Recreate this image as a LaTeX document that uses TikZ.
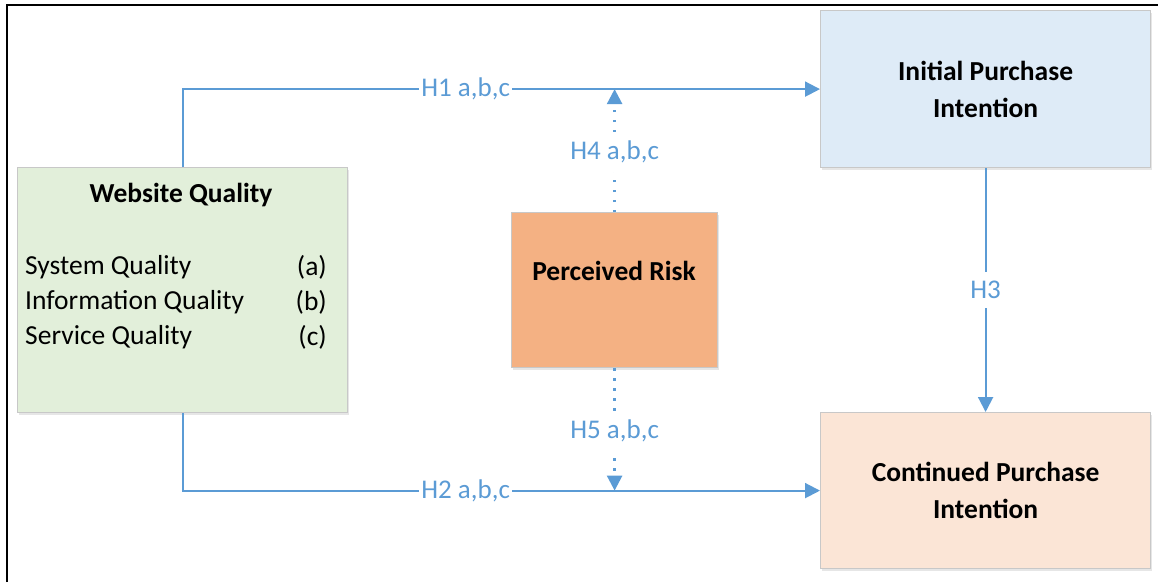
\documentclass[tikz,border=0pt]{standalone}
\usepackage{fontspec}
\setmainfont{Carlito}
\usetikzlibrary{arrows.meta,shadows}

\definecolor{linkblue}{HTML}{5B9BD5}
\definecolor{wqfill}{HTML}{E2EFDA}
\definecolor{ipfill}{HTML}{DEEBF7}
\definecolor{cpfill}{HTML}{FBE5D6}
\definecolor{prfill}{HTML}{F4B183}
\definecolor{boxedge}{HTML}{C8C8C8}

\begin{document}
\begin{tikzpicture}[x=1pt,y=-1pt,
  box/.style={draw=boxedge, line width=1.2pt, inner sep=0pt, anchor=north west,
    drop shadow={opacity=0.2, shadow xshift=1pt, shadow yshift=-2.5pt}},
  title/.style={font=\fontsize{27.5}{37}\selectfont\bfseries, align=center, inner sep=0pt},
  item/.style={font=\fontsize{27.5}{30}\selectfont, inner sep=0pt},
  conn/.style={draw=linkblue, line width=2pt, -{Triangle[length=15pt,width=15pt]}},
  dotconn/.style={conn, line width=2.6pt, dash pattern=on 2.4pt off 7.6pt},
  lbl/.style={fill=white, text=linkblue, font=\fontsize{27}{30}\selectfont, inner xsep=2pt, inner ysep=2pt},
  vlbl/.style={lbl, inner ysep=9pt}]

\useasboundingbox (0,0) rectangle (1158,582);

% frame
\draw[line width=2.2pt] (7,582) -- (7,5) -- (1158,5);

% boxes
\node[box, fill=wqfill, minimum width=330pt, minimum height=245pt] (wq) at (17,167) {};
\node[box, fill=ipfill, minimum width=330pt, minimum height=157pt] (ip) at (820,10) {};
\node[box, fill=cpfill, minimum width=330pt, minimum height=156pt] (cp) at (820,412) {};
\node[box, fill=prfill, minimum width=206pt, minimum height=155pt] (pr) at (511,212) {};

% box texts
\node[title] (wqtitle) at (181,195) {Website Quality};
\node[item, anchor=west] (sq) at (25,267) {System Quality};
\node[item, anchor=west] (iq) at (25,302) {Information Quality};
\node[item, anchor=west] (svq) at (25,337) {Service Quality};
\node[item, anchor=east] (sqa) at (327,267) {(a)};
\node[item, anchor=east] (iqb) at (327,302) {(b)};
\node[item, anchor=east] (svqc) at (327,337) {(c)};
\node[title] (iptext) at (ip.center) {Initial Purchase\\Intention};
\node[title] (cptext) at (cp.center) {Continued Purchase\\Intention};
\node[title] (prtext) at (614,271) {Perceived Risk};

% hypotheses
\draw[conn] (wq.north) |- node[lbl, pos=0.722] (h1) {H1 a,b,c} (ip.west);
\draw[conn] (wq.south) |- node[lbl, pos=0.722] (h2) {H2 a,b,c} (cp.west);
\draw[conn] (ip.south) -- node[vlbl] (h3) {H3} (cp.north);
\draw[dotconn] (pr.north) -- node[vlbl, pos=0.49] (h4) {H4 a,b,c} (pr.north |- ip.west);
\draw[dotconn] (pr.south) -- node[vlbl, pos=0.51] (h5) {H5 a,b,c} (pr.south |- cp.west);

\end{tikzpicture}
\end{document}
